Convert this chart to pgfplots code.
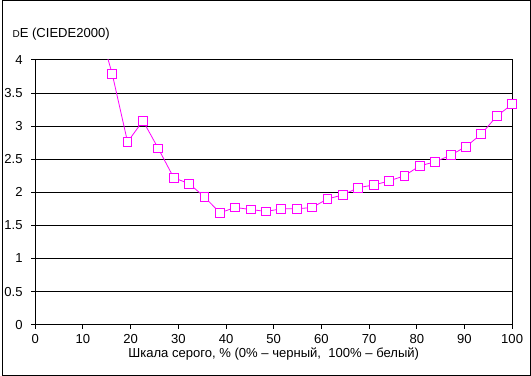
\documentclass[border=0pt]{standalone}
\usepackage{fontspec}
\setmainfont{Liberation Sans}
\usepackage{pgfplots}
\pgfplotsset{compat=1.18}
\begin{document}
\begin{tikzpicture}
\begin{axis}[
  scale only axis,
  width=358pt, height=198.75pt,
  xmin=0, xmax=100, ymin=0, ymax=4,
  xtick={0,10,...,100},
  ytick={0,0.5,...,4},
  yticklabels={0,0.5,1,1.5,2,2.5,3,3.5,4},
  ymajorgrids, major grid style={black, line width=0.75pt},
  axis line style={black, line width=0.75pt},
  tick align=outside, major tick length=3pt,
  tick style={black, line width=0.75pt},
  xtick pos=bottom, ytick pos=left,
  /pgf/number format/assume math mode=true,
  tick label style={font=\fontsize{9.8}{11}\selectfont},
  xticklabel style={yshift=-1pt},
  yticklabel style={xshift=-3pt},
  xlabel={Шкала серого, \% (0\% – черный,\ \ 100\% – белый)},
  xlabel style={font=\fontsize{9.8}{11}\selectfont, yshift=4pt},
  clip mode=global,
]
\addplot[color={rgb,255:red,255;green,0;blue,255}, line width=0.6pt, mark=square*,
  mark size=3.3pt, mark options={fill=white, draw={rgb,255:red,255;green,0;blue,255}, line width=0.75pt}]
coordinates {
(12.90,4.60) (16.13,3.79) (19.35,2.76) (22.58,3.08) (25.81,2.66) (29.03,2.22)
(32.26,2.13) (35.48,1.93) (38.71,1.69) (41.94,1.77) (45.16,1.74) (48.39,1.71)
(51.61,1.75) (54.84,1.75) (58.06,1.77) (61.29,1.90) (64.52,1.96) (67.74,2.07)
(70.97,2.11) (74.19,2.17) (77.42,2.25) (80.65,2.40) (83.87,2.46) (87.10,2.56)
(90.32,2.69) (93.55,2.88) (96.77,3.15) (100,3.33)
};
\end{axis}
\node[anchor=base west, font=\fontsize{9.8}{11}\selectfont, inner sep=0pt]
  at ([xshift=-17.25pt, yshift=17pt]current axis.north west) {{\fontsize{7.5}{8}\selectfont D}E (CIEDE2000)};
\draw[black, line width=0.75pt]
  ([xshift=-24.4pt, yshift=-37.9pt]current axis.south west) rectangle
  ([xshift=13.8pt, yshift=44.6pt]current axis.north east);
\end{tikzpicture}
\end{document}
